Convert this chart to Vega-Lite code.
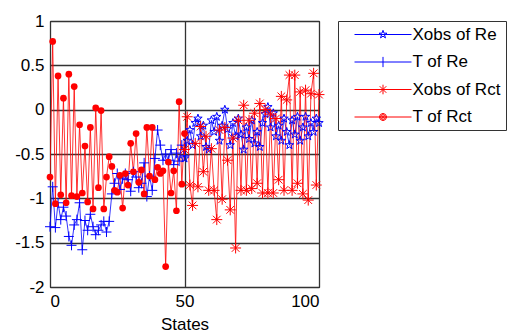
{
"$schema": "https://vega.github.io/schema/vega-lite/v6.json",
"width": 269, "height": 266,
"autosize": {"type": "none"},
"padding": {"left": 50, "top": 21, "right": 193, "bottom": 46},
"background": "white",
"config": {
  "view": {"stroke": "black", "strokeWidth": 1},
  "font": "Liberation Sans",
  "axis": {"labelFont": "Liberation Sans", "labelFontSize": 17, "labelColor": "black", "titleFont": "Liberation Sans", "titleFontSize": 17, "titleFontWeight": "normal", "titleColor": "black", "grid": true, "gridColor": "#333", "gridWidth": 1.3, "gridOpacity": 1, "domain": false, "ticks": false}
},
"datasets": {
  "pts": [
{"x":0,"y":-0.76,"s":"T of Rct"},{"x":1,"y":0.77,"s":"T of Rct"},{"x":2,"y":-1.06,"s":"T of Rct"},{"x":3,"y":0.38,"s":"T of Rct"},{"x":4,"y":-0.96,"s":"T of Rct"},{"x":5,"y":0.13,"s":"T of Rct"},{"x":6,"y":-1.05,"s":"T of Rct"},{"x":7,"y":0.40,"s":"T of Rct"},{"x":8,"y":-0.97,"s":"T of Rct"},{"x":9,"y":0.26,"s":"T of Rct"},
{"x":10,"y":-0.98,"s":"T of Rct"},{"x":11,"y":-0.17,"s":"T of Rct"},{"x":12,"y":-0.94,"s":"T of Rct"},{"x":13,"y":-0.41,"s":"T of Rct"},{"x":14,"y":-1.04,"s":"T of Rct"},{"x":15,"y":-0.20,"s":"T of Rct"},{"x":16,"y":-1.12,"s":"T of Rct"},{"x":17,"y":0.02,"s":"T of Rct"},{"x":18,"y":-0.88,"s":"T of Rct"},{"x":19,"y":-0.01,"s":"T of Rct"},
{"x":20,"y":-1.12,"s":"T of Rct"},{"x":21,"y":-0.76,"s":"T of Rct"},{"x":22,"y":-0.53,"s":"T of Rct"},{"x":23,"y":-0.64,"s":"T of Rct"},{"x":24,"y":-0.91,"s":"T of Rct"},{"x":25,"y":-0.93,"s":"T of Rct"},{"x":26,"y":-0.74,"s":"T of Rct"},{"x":27,"y":-1.11,"s":"T of Rct"},{"x":28,"y":-0.72,"s":"T of Rct"},{"x":29,"y":-0.85,"s":"T of Rct"},
{"x":30,"y":-0.38,"s":"T of Rct"},{"x":31,"y":-0.70,"s":"T of Rct"},{"x":32,"y":-0.27,"s":"T of Rct"},{"x":33,"y":-0.82,"s":"T of Rct"},{"x":34,"y":-0.68,"s":"T of Rct"},{"x":35,"y":-0.95,"s":"T of Rct"},{"x":36,"y":-0.20,"s":"T of Rct"},{"x":37,"y":-0.75,"s":"T of Rct"},{"x":38,"y":-0.20,"s":"T of Rct"},{"x":39,"y":-0.79,"s":"T of Rct"},
{"x":40,"y":-0.65,"s":"T of Rct"},{"x":41,"y":-0.72,"s":"T of Rct"},{"x":42,"y":-0.69,"s":"T of Rct"},{"x":43,"y":-1.77,"s":"T of Rct"},{"x":44,"y":-0.59,"s":"T of Rct"},{"x":45,"y":-0.94,"s":"T of Rct"},{"x":46,"y":-0.69,"s":"T of Rct"},{"x":47,"y":-1.14,"s":"T of Rct"},{"x":48,"y":0.09,"s":"T of Rct"},{"x":49,"y":-0.84,"s":"T of Rct"},{"x":50,"y":-0.27,"s":"T of Rct"},

{"x":0,"y":-1.32,"s":"T of Re"},{"x":1,"y":-0.87,"s":"T of Re"},{"x":2,"y":-1.33,"s":"T of Re"},{"x":3,"y":-1.05,"s":"T of Re"},{"x":4,"y":-1.24,"s":"T of Re"},{"x":5,"y":-1.10,"s":"T of Re"},{"x":6,"y":-1.20,"s":"T of Re"},{"x":7,"y":-1.43,"s":"T of Re"},{"x":8,"y":-1.53,"s":"T of Re"},{"x":9,"y":-1.30,"s":"T of Re"},
{"x":10,"y":-1.24,"s":"T of Re"},{"x":11,"y":-1.05,"s":"T of Re"},{"x":12,"y":-1.58,"s":"T of Re"},{"x":13,"y":-1.25,"s":"T of Re"},{"x":14,"y":-1.36,"s":"T of Re"},{"x":15,"y":-1.18,"s":"T of Re"},{"x":16,"y":-1.32,"s":"T of Re"},{"x":17,"y":-1.41,"s":"T of Re"},{"x":18,"y":-1.36,"s":"T of Re"},{"x":19,"y":-1.30,"s":"T of Re"},
{"x":20,"y":-1.26,"s":"T of Re"},{"x":21,"y":-1.38,"s":"T of Re"},{"x":22,"y":-1.26,"s":"T of Re"},{"x":23,"y":-0.95,"s":"T of Re"},{"x":24,"y":-0.83,"s":"T of Re"},{"x":25,"y":-0.72,"s":"T of Re"},{"x":26,"y":-0.90,"s":"T of Re"},{"x":27,"y":-0.78,"s":"T of Re"},{"x":28,"y":-0.72,"s":"T of Re"},{"x":29,"y":-0.79,"s":"T of Re"},
{"x":30,"y":-0.92,"s":"T of Re"},{"x":31,"y":-0.70,"s":"T of Re"},{"x":32,"y":-0.76,"s":"T of Re"},{"x":33,"y":-0.88,"s":"T of Re"},{"x":34,"y":-0.83,"s":"T of Re"},{"x":35,"y":-0.60,"s":"T of Re"},{"x":36,"y":-0.98,"s":"T of Re"},{"x":37,"y":-0.75,"s":"T of Re"},{"x":38,"y":-0.91,"s":"T of Re"},{"x":39,"y":-0.55,"s":"T of Re"},
{"x":40,"y":-0.23,"s":"T of Re"},{"x":41,"y":-0.40,"s":"T of Re"},{"x":42,"y":-0.57,"s":"T of Re"},{"x":43,"y":-0.50,"s":"T of Re"},{"x":44,"y":-0.57,"s":"T of Re"},{"x":45,"y":-0.45,"s":"T of Re"},{"x":46,"y":-0.62,"s":"T of Re"},{"x":47,"y":-0.49,"s":"T of Re"},{"x":48,"y":-0.58,"s":"T of Re"},{"x":49,"y":-0.40,"s":"T of Re"},{"x":50,"y":-0.52,"s":"T of Re"},

{"x":50,"y":-0.55,"s":"Xobs of Re"},{"x":51,"y":-0.35,"s":"Xobs of Re"},{"x":52,"y":-0.23,"s":"Xobs of Re"},{"x":53,"y":-0.40,"s":"Xobs of Re"},{"x":54,"y":-0.15,"s":"Xobs of Re"},{"x":55,"y":-0.10,"s":"Xobs of Re"},{"x":56,"y":-0.30,"s":"Xobs of Re"},{"x":57,"y":-0.18,"s":"Xobs of Re"},{"x":58,"y":-0.42,"s":"Xobs of Re"},{"x":59,"y":-0.45,"s":"Xobs of Re"},
{"x":60,"y":-0.12,"s":"Xobs of Re"},{"x":61,"y":-0.25,"s":"Xobs of Re"},{"x":62,"y":-0.08,"s":"Xobs of Re"},{"x":63,"y":-0.35,"s":"Xobs of Re"},{"x":64,"y":-0.18,"s":"Xobs of Re"},{"x":65,"y":0.00,"s":"Xobs of Re"},{"x":66,"y":-0.22,"s":"Xobs of Re"},{"x":67,"y":-0.40,"s":"Xobs of Re"},{"x":68,"y":-0.15,"s":"Xobs of Re"},{"x":69,"y":-0.30,"s":"Xobs of Re"},
{"x":70,"y":-0.10,"s":"Xobs of Re"},{"x":71,"y":-0.28,"s":"Xobs of Re"},{"x":72,"y":-0.45,"s":"Xobs of Re"},{"x":73,"y":-0.20,"s":"Xobs of Re"},{"x":74,"y":-0.33,"s":"Xobs of Re"},{"x":75,"y":-0.12,"s":"Xobs of Re"},{"x":76,"y":-0.38,"s":"Xobs of Re"},{"x":77,"y":-0.25,"s":"Xobs of Re"},{"x":78,"y":-0.42,"s":"Xobs of Re"},{"x":79,"y":-0.15,"s":"Xobs of Re"},
{"x":80,"y":-0.05,"s":"Xobs of Re"},{"x":81,"y":0.03,"s":"Xobs of Re"},{"x":82,"y":-0.20,"s":"Xobs of Re"},{"x":83,"y":-0.04,"s":"Xobs of Re"},{"x":84,"y":-0.30,"s":"Xobs of Re"},{"x":85,"y":-0.18,"s":"Xobs of Re"},{"x":86,"y":-0.35,"s":"Xobs of Re"},{"x":87,"y":-0.10,"s":"Xobs of Re"},{"x":88,"y":-0.25,"s":"Xobs of Re"},{"x":89,"y":-0.40,"s":"Xobs of Re"},
{"x":90,"y":-0.12,"s":"Xobs of Re"},{"x":91,"y":-0.28,"s":"Xobs of Re"},{"x":92,"y":-0.08,"s":"Xobs of Re"},{"x":93,"y":-0.35,"s":"Xobs of Re"},{"x":94,"y":-0.20,"s":"Xobs of Re"},{"x":95,"y":-0.08,"s":"Xobs of Re"},{"x":96,"y":-0.30,"s":"Xobs of Re"},{"x":97,"y":-0.15,"s":"Xobs of Re"},{"x":98,"y":-0.25,"s":"Xobs of Re"},{"x":99,"y":-0.10,"s":"Xobs of Re"},{"x":100,"y":-0.15,"s":"Xobs of Re"},

{"x":50,"y":-0.45,"s":"Xobs of Rct"},{"x":51,"y":-0.08,"s":"Xobs of Rct"},{"x":52,"y":-0.85,"s":"Xobs of Rct"},{"x":53,"y":-1.08,"s":"Xobs of Rct"},{"x":54,"y":-0.38,"s":"Xobs of Rct"},{"x":55,"y":-0.87,"s":"Xobs of Rct"},{"x":56,"y":-0.19,"s":"Xobs of Rct"},{"x":57,"y":-0.70,"s":"Xobs of Rct"},{"x":58,"y":-0.30,"s":"Xobs of Rct"},{"x":59,"y":-0.91,"s":"Xobs of Rct"},
{"x":60,"y":-0.44,"s":"Xobs of Rct"},{"x":61,"y":-0.91,"s":"Xobs of Rct"},{"x":62,"y":-1.24,"s":"Xobs of Rct"},{"x":63,"y":-0.23,"s":"Xobs of Rct"},{"x":64,"y":-1.01,"s":"Xobs of Rct"},{"x":65,"y":-0.20,"s":"Xobs of Rct"},{"x":66,"y":-0.57,"s":"Xobs of Rct"},{"x":67,"y":-1.13,"s":"Xobs of Rct"},{"x":68,"y":-0.32,"s":"Xobs of Rct"},{"x":69,"y":-1.56,"s":"Xobs of Rct"},
{"x":70,"y":-0.12,"s":"Xobs of Rct"},{"x":71,"y":-0.91,"s":"Xobs of Rct"},{"x":72,"y":0.05,"s":"Xobs of Rct"},{"x":73,"y":-0.91,"s":"Xobs of Rct"},{"x":74,"y":-0.12,"s":"Xobs of Rct"},{"x":75,"y":-0.89,"s":"Xobs of Rct"},{"x":76,"y":-0.04,"s":"Xobs of Rct"},{"x":77,"y":-0.83,"s":"Xobs of Rct"},{"x":78,"y":0.07,"s":"Xobs of Rct"},{"x":79,"y":-0.94,"s":"Xobs of Rct"},
{"x":80,"y":0.00,"s":"Xobs of Rct"},{"x":81,"y":-0.94,"s":"Xobs of Rct"},{"x":82,"y":-0.05,"s":"Xobs of Rct"},{"x":83,"y":-0.94,"s":"Xobs of Rct"},{"x":84,"y":-0.10,"s":"Xobs of Rct"},{"x":85,"y":-0.79,"s":"Xobs of Rct"},{"x":86,"y":0.15,"s":"Xobs of Rct"},{"x":87,"y":-0.91,"s":"Xobs of Rct"},{"x":88,"y":0.11,"s":"Xobs of Rct"},{"x":89,"y":0.39,"s":"Xobs of Rct"},
{"x":90,"y":-0.91,"s":"Xobs of Rct"},{"x":91,"y":0.39,"s":"Xobs of Rct"},{"x":92,"y":-0.83,"s":"Xobs of Rct"},{"x":93,"y":0.20,"s":"Xobs of Rct"},{"x":94,"y":-0.95,"s":"Xobs of Rct"},{"x":95,"y":0.22,"s":"Xobs of Rct"},{"x":96,"y":-1.02,"s":"Xobs of Rct"},{"x":97,"y":0.18,"s":"Xobs of Rct"},{"x":98,"y":0.41,"s":"Xobs of Rct"},{"x":99,"y":-0.85,"s":"Xobs of Rct"},{"x":100,"y":0.17,"s":"Xobs of Rct"}
  ]
},
"data": {"name": "pts"},
"encoding": {
  "x": {"field": "x", "type": "quantitative", "title": "States", "scale": {"domain": [0, 100], "nice": false}, "axis": {"values": [0, 50, 100], "labelPadding": 6, "titlePadding": 7}},
  "y": {"field": "y", "type": "quantitative", "title": null, "scale": {"domain": [-2, 1], "nice": false, "zero": false}, "axis": {"values": [-2, -1.5, -1, -0.5, 0, 0.5, 1], "labelPadding": 6, "labelExpr": "'' + datum.value"}}
},
"layer": [
  {"mark": {"type": "line", "strokeWidth": 0.8, "clip": true},
   "encoding": {"color": {"field": "s", "type": "nominal", "scale": {"domain": ["T of Re", "Xobs of Re", "T of Rct", "Xobs of Rct"], "range": ["#0000ff", "#0000ff", "#ff0000", "#ff0000"]}, "legend": null}}},
  {"transform": [{"filter": "datum.s == 'T of Re'"}],
   "mark": {"type": "point", "shape": "M-1,0H1M0,-1V1", "size": 100, "filled": false, "stroke": "#0000ff", "strokeWidth": 1, "opacity": 1}},
  {"transform": [{"filter": "datum.s == 'Xobs of Re'"}],
   "mark": {"type": "point", "shape": "M0,-1.4L0.323,-0.445L1.331,-0.433L0.523,0.17L0.823,1.133L0,0.55L-0.823,1.133L-0.523,0.17L-1.331,-0.433L-0.323,-0.445Z", "size": 40, "filled": false, "stroke": "#0000ff", "strokeWidth": 1, "opacity": 1}},
  {"transform": [{"filter": "datum.s == 'Xobs of Rct'"}],
   "mark": {"type": "point", "shape": "M-1,0H1M0,-1V1M-0.7,-0.7L0.7,0.7M-0.7,0.7L0.7,-0.7", "size": 120, "filled": false, "stroke": "#ff0000", "strokeWidth": 1, "opacity": 1}},
  {"transform": [{"filter": "datum.s == 'T of Rct'"}],
   "mark": {"type": "point", "shape": "circle", "size": 45, "filled": true, "fill": "#ff0000", "opacity": 1}},
  {"mark": {"type": "point", "clip": true, "size": 36, "opacity": 1, "strokeWidth": 1, "filled": false},
   "encoding": {
     "y": {"datum": 5},
     "shape": {"field": "s", "type": "nominal", "scale": {"domain": ["Xobs of Re", "T of Re", "Xobs of Rct", "T of Rct"], "range": [
        "M-9.5,0H9.5M0,-1.4L0.323,-0.445L1.331,-0.433L0.523,0.17L0.823,1.133L0,0.55L-0.823,1.133L-0.523,0.17L-1.331,-0.433L-0.323,-0.445Z",
        "M-9.5,0H9.5M0,-1.7V1.7",
        "M-9.5,0H9.5M0,-1.6V1.6M-1.1,-1.1L1.1,1.1M-1.1,1.1L1.1,-1.1",
        "M-9.5,0H9.5M1.2,0L0.85,0.85L0,1.2L-0.85,0.85L-1.2,0L-0.85,-0.85L0,-1.2L0.85,-0.85ZM0.8,0L0.57,0.57L0,0.8L-0.57,0.57L-0.8,0L-0.57,-0.57L0,-0.8L0.57,-0.57ZM0.4,0L0,0.4L-0.4,0L0,-0.4Z"]},
       "legend": {"title": null, "orient": "none", "legendX": 288, "legendY": 0, "padding": 5, "symbolOffset": 31.5, "labelOffset": 21, "rowPadding": 9.5, "symbolSize": 36, "symbolStrokeWidth": 1, "labelFont": "Liberation Sans", "labelFontSize": 17, "labelColor": "black", "labelLimit": 200, "strokeColor": "#333", "fillColor": "white"}},
     "stroke": {"field": "s", "type": "nominal", "scale": {"domain": ["Xobs of Re", "T of Re", "Xobs of Rct", "T of Rct"], "range": ["#0000ff", "#0000ff", "#ff0000", "#ff0000"]}, "legend": {"title": null, "orient": "none", "legendX": 288, "legendY": 0}}
   }}
]
}
